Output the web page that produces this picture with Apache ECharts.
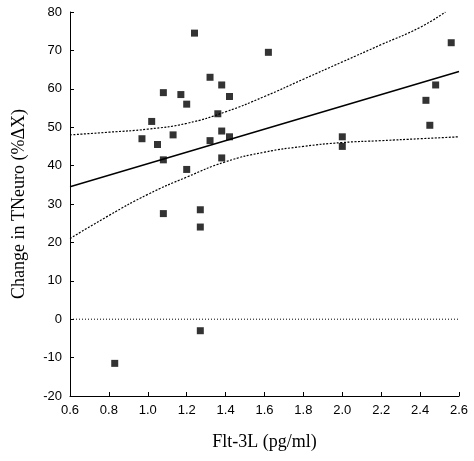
<!DOCTYPE html>
<html><head><meta charset="utf-8">
<script src="https://cdn.jsdelivr.net/npm/echarts@6/dist/echarts.min.js"></script>
<style>html,body{margin:0;background:#fff}#c{width:474px;height:461px}</style>
</head><body><div id="c"></div>
<script>
// scatter points [Flt-3L, change]
var points = [[0.83,-11.5],[0.97,47],[1.02,51.5],[1.05,45.5],[1.08,59],[1.08,41.5],[1.08,27.5],
  [1.13,48],[1.17,58.5],[1.20,56],[1.20,39],[1.24,74.5],[1.27,28.5],[1.27,24],[1.27,-3],
  [1.32,63],[1.32,46.5],[1.36,53.5],[1.38,61],[1.38,49],[1.38,42],[1.42,58],[1.42,47.5],
  [1.62,69.5],[2.0,47.5],[2.0,45],[2.43,57],[2.45,50.5],[2.48,61],[2.56,72]];
var fitLine = [[0.6,34.5],[2.6,64.5]];
var upperBand = [[0.6,48],[0.8,48.7],[1.0,49.5],[1.2,51],[1.4,54],[1.6,58],[1.8,62.5],[2.0,67],[2.2,71.5],[2.4,76],[2.53,80]];
var lowerBand = [[0.6,21],[0.8,27],[1.0,32.5],[1.2,37],[1.4,41],[1.6,43.5],[1.8,45],[2.0,46],[2.2,46.5],[2.4,47],[2.6,47.5]];
var zeroLine = [[0.6,0],[2.6,0]];

var chart = echarts.init(document.getElementById('c'));
var serif = 'Liberation Serif';
var dotted = {color:'#000', width:1.2, type:[2,1.5]};
chart.setOption({
  animation:false,
  grid:{left:70,right:15,top:12,bottom:65},
  xAxis:{type:'value',min:0.6,max:2.6,interval:0.2,
    name:'Flt-3L (pg/ml)',nameLocation:'middle',nameGap:37,
    nameTextStyle:{fontFamily:serif,fontSize:18,color:'#000'},
    axisLine:{onZero:false,lineStyle:{color:'#000'}},axisTick:{inside:true,length:4,lineStyle:{color:'#000'}},
    axisLabel:{color:'#000',fontFamily:'Liberation Sans',fontSize:13,formatter:function(v){return v.toFixed(1);}},
    splitLine:{show:false}},
  yAxis:{type:'value',min:-20,max:80,interval:10,
    name:'Change in TNeuro (%ΔX)',nameLocation:'middle',nameGap:42,
    nameTextStyle:{fontFamily:serif,fontSize:18,color:'#000'},
    axisLine:{show:true,onZero:false,lineStyle:{color:'#000'}},axisTick:{show:true,inside:true,length:4,lineStyle:{color:'#000'}},
    axisLabel:{color:'#000',fontFamily:'Liberation Sans',fontSize:13},
    splitLine:{show:false}},
  series:[
    {type:'line',data:zeroLine,symbol:'none',lineStyle:{color:'#000',width:1,type:[1,2]}},
    {type:'line',data:upperBand,symbol:'none',smooth:true,lineStyle:dotted},
    {type:'line',data:lowerBand,symbol:'none',smooth:true,lineStyle:dotted},
    {type:'line',data:fitLine,symbol:'none',lineStyle:{color:'#000',width:1.5}},
    {type:'scatter',data:points,symbol:'rect',symbolSize:7,itemStyle:{color:'#000'}}
  ]
});
</script></body></html>
